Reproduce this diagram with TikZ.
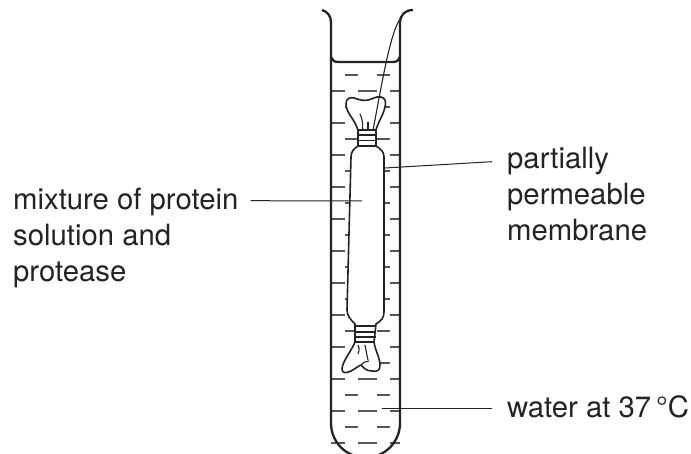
\documentclass[tikz,border=0pt]{standalone}
\usepackage{fontspec}
\setmainfont{TeX Gyre Heros}
\usetikzlibrary{calc}
\definecolor{myink}{RGB}{35,35,35}
\definecolor{mydash}{RGB}{85,85,85}
\tikzset{
  tube/.style={draw=myink, line width=2.3pt},
  sack/.style={draw=myink, line width=1.6pt, line join=round},
  tie/.style={draw=myink, line width=1.1pt},
  wavelet/.style={draw=mydash, line width=1.5pt},
  leader/.style={draw=myink, line width=1pt},
  lbl/.style={font=\fontsize{29.3}{36}\selectfont, align=left, anchor=north west, inner sep=0pt, text=myink}
}
\begin{document}
\begin{tikzpicture}[x=1pt, y=-1pt]
  \clip (0,0) rectangle (691,454);

  % Water
  \foreach \yy in {91,123,155,187,219,251,283,315,347,379,411,443} {
    \draw[wavelet] (331,\yy) -- (345,\yy);
    \draw[wavelet] (390,\yy) -- (400,\yy);
  }
  \foreach \yy in {75,107,139,171,203,235,267,299,331,363,395,427} {
    \draw[wavelet] (345,\yy) -- (358,\yy);
    \draw[wavelet] (377,\yy) -- (390,\yy);
  }
  \foreach \yy in {91,379,411,443} {
    \draw[wavelet] (358,\yy) -- (377,\yy);
  }

  % Tube
  \draw[tube] (322,10) .. controls (328,12) and (331,16) .. (331,23) -- (331,423)
    .. controls (331,442) and (346,457.5) .. (365.5,457.5)
    .. controls (385,457.5) and (400,442) .. (400,423) -- (400,23)
    .. controls (400,15) and (405,10) .. (413,10);
  \draw[tube] (331,57) .. controls (332,60) and (334,62) .. (338,62) -- (393,62)
    .. controls (397,62) and (399,60) .. (400,57);

  % Sack, white so that the water stops behind it
  \draw[sack, fill=white] (358,130) .. controls (354,118) and (346,113) .. (346,104)
    .. controls (346,98) and (350,97) .. (354,98)
    .. controls (360,100) and (364,101) .. (368,100)
    .. controls (373,99) and (376,96) .. (381,97)
    .. controls (386,98) and (386,103) .. (385,107)
    .. controls (383,116) and (378,122) .. (376,130) -- cycle;
  \draw[sack, fill=white] (358,130) -- (358,146)
    .. controls (354,149) and (351,151) .. (351,157)
    -- (347,310)
    .. controls (347,316) and (351,320) .. (355,324)
    -- (355,342)
    .. controls (352,350) and (342,362) .. (342,369)
    .. controls (342,374) and (347,373) .. (351,371)
    .. controls (355,369) and (358,366) .. (361,365)
    .. controls (364,368) and (366,371) .. (372,371)
    .. controls (378,372) and (380,370) .. (380,365)
    .. controls (380,358) and (375,350) .. (374,342)
    -- (376,324)
    .. controls (381,321) and (384,318) .. (384,312)
    -- (384,157)
    .. controls (384,152) and (381,149) .. (376,146)
    -- (376,130) -- cycle;
  \draw[tie] (358,135) -- (376,135) (358,140.5) -- (376,140.5);
  \draw[sack] (355,326) -- (376,326);
  \draw[tie] (355,332) -- (376,332) (355,337) -- (376,337);
  \draw[sack] (355,342) -- (374,342);
  \draw[sack] (358,130) -- (376,130) (358,146) -- (376,146);
  \draw[tie] (360,114) .. controls (362,118) and (363,123) .. (362.5,129);
  \draw[tie] (368,122) -- (368,129);
  \draw[tie] (358,345) .. controls (360,350) and (359,350) .. (358,354);
  \draw[tie] (365,345) .. controls (366,350) and (367,356) .. (368,360);
  \draw[tie] (361,365) .. controls (364,362) and (366,361) .. (369,361);

  % String
  \draw[tie] (373,130) .. controls (380,95) and (390,30) .. (401,18);

  % Labels
  \node[lbl] (lblmix) at (13,188) {mixture of protein\\solution and\\protease};
  \node[lbl] (lblmem) at (507,147) {partially\\permeable\\membrane};
  \node[lbl] (lblwat) at (507,395) {water at 37\,°C};

  \coordinate (mixend) at (362,201);
  \coordinate (memend) at (385,168);
  \coordinate (watend) at (382,408);
  \draw[leader] ($(lblmix.north east)+(12,12.7)$) -- (mixend);
  \draw[leader] ($(lblmem.north west)+(-15,14.7)$) -- (memend);
  \draw[leader] ($(lblwat.north west)+(-15,13)$) -- (watend);
\end{tikzpicture}
\end{document}
